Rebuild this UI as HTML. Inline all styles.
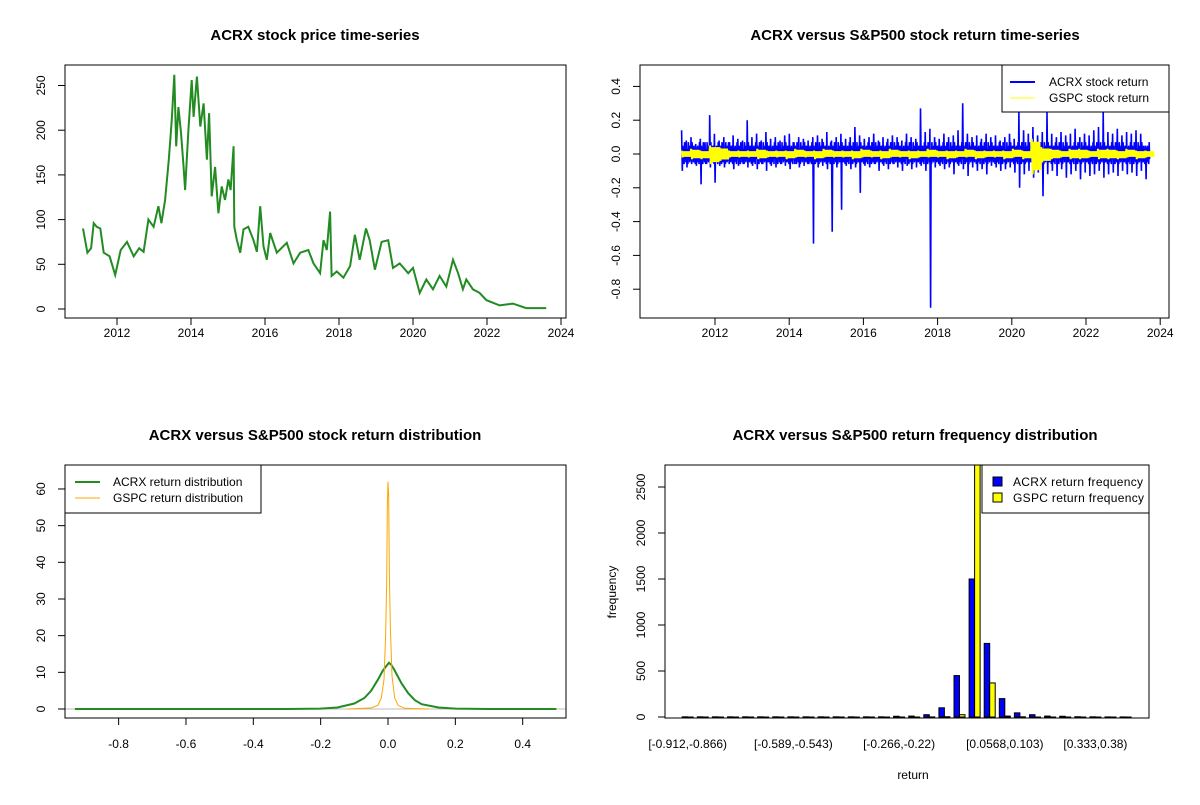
<!DOCTYPE html>
<html><head><meta charset="utf-8"><style>
body{margin:0;background:#fff}
svg text{font-family:"Liberation Sans",Arial,sans-serif;fill:#000}
.t{font-size:15px;font-weight:bold}
.k{font-size:12px}
</style></head><body>
<svg id="s" width="1200" height="800" xmlns="http://www.w3.org/2000/svg">
<rect width="1200" height="800" fill="#fff"/>
</svg>
<script>
// ---- Panel 1: price ----
const priceYears=[2011.08,2011.2,2011.3,2011.37,2011.45,2011.55,2011.64,2011.8,2011.95,2012.1,2012.27,2012.45,2012.6,2012.72,2012.85,2012.99,2013.12,2013.2,2013.3,2013.4,2013.48,2013.55,2013.6,2013.66,2013.73,2013.8,2013.84,2013.93,2014.02,2014.07,2014.16,2014.25,2014.34,2014.43,2014.49,2014.56,2014.65,2014.74,2014.83,2014.92,2015.01,2015.07,2015.15,2015.17,2015.24,2015.33,2015.42,2015.55,2015.69,2015.78,2015.87,2015.96,2016.05,2016.14,2016.32,2016.59,2016.77,2016.95,2017.17,2017.31,2017.49,2017.58,2017.67,2017.76,2017.8,2017.94,2018.12,2018.3,2018.43,2018.56,2018.73,2018.83,2018.97,2019.15,2019.33,2019.46,2019.64,2019.87,2020.0,2020.18,2020.36,2020.54,2020.72,2020.9,2021.08,2021.22,2021.35,2021.44,2021.62,2021.8,2021.98,2022.34,2022.7,2023.06,2023.6];
const prices=[90,63,68,96,92,90,63,59,38,66,75,59,68,64,100,92,115,96,122,167,212,262,182,226,197,159,133,200,256,215,260,204,230,167,219,126,159,107,137,122,145,133,182,92,77,63,89,92,77,64,115,70,55,85,63,74,51,63,66,51,40,77,66,109,37,42,35,48,83,55,90,77,44,75,77,46,51,40,46,18,33,22,37,25,55,40,22,33,22,18,10,4,6,1,1];
const priceTicks=[0,50,100,150,200,250];
const yearTicks=[2012,2014,2016,2018,2020,2022,2024];
// ---- Panel 2: returns (per-bin up/down excursions) ----
const acrxUp=[0.14,0.08,0.1,0.06,0.09,0.07,0.23,0.12,0.08,0.1,0.07,0.11,0.09,0.08,0.2,0.1,0.12,0.08,0.13,0.09,0.1,0.08,0.11,0.12,0.07,0.1,0.09,0.08,0.1,0.11,0.09,0.13,0.08,0.1,0.12,0.09,0.1,0.16,0.11,0.09,0.1,0.12,0.08,0.1,0.09,0.11,0.1,0.08,0.12,0.1,0.09,0.27,0.13,0.15,0.1,0.09,0.12,0.1,0.11,0.14,0.3,0.12,0.1,0.11,0.09,0.12,0.1,0.11,0.08,0.1,0.12,0.09,0.25,0.14,0.12,0.16,0.11,0.13,0.25,0.12,0.1,0.13,0.11,0.12,0.15,0.1,0.12,0.11,0.14,0.16,0.25,0.13,0.12,0.15,0.11,0.13,0.12,0.14,0.12,0.05];
const acrxDn=[-0.1,-0.08,-0.06,-0.07,-0.18,-0.06,-0.08,-0.17,-0.07,-0.08,-0.06,-0.09,-0.07,-0.06,-0.08,-0.07,-0.09,-0.06,-0.1,-0.07,-0.08,-0.06,-0.07,-0.09,-0.06,-0.08,-0.07,-0.06,-0.53,-0.08,-0.07,-0.09,-0.46,-0.08,-0.33,-0.07,-0.09,-0.08,-0.23,-0.07,-0.08,-0.06,-0.1,-0.07,-0.09,-0.06,-0.08,-0.1,-0.07,-0.09,-0.08,-0.07,-0.1,-0.91,-0.08,-0.07,-0.09,-0.08,-0.12,-0.07,-0.09,-0.13,-0.08,-0.1,-0.09,-0.12,-0.07,-0.08,-0.1,-0.09,-0.08,-0.11,-0.2,-0.12,-0.1,-0.14,-0.11,-0.25,-0.12,-0.1,-0.13,-0.09,-0.14,-0.12,-0.1,-0.15,-0.11,-0.13,-0.12,-0.1,-0.14,-0.12,-0.11,-0.13,-0.1,-0.12,-0.11,-0.13,-0.1,-0.15];
const acrxBandUp=[0.05,0.03,0.07,0.04];
const acrxBandDn=[-0.04,-0.06,-0.03,-0.05];
const gspcUp=[0.02,0.03,0.02,0.05,0.04,0.02,0.02,0.02,0.03,0.02,0.02,0.02,0.03,0.02,0.02,0.03,0.02,0.02,0.02,0.03,0.02,0.02,0.03,0.02,0.02,0.02,0.03,0.02,0.02,0.02,0.03,0.02,0.02,0.02,0.02,0.03,0.02,0.09,0.04,0.03,0.02,0.03,0.03,0.02,0.03,0.03,0.02,0.03,0.02,0.02];
const gspcDn=[-0.02,-0.03,-0.03,-0.06,-0.04,-0.02,-0.02,-0.02,-0.03,-0.02,-0.02,-0.03,-0.02,-0.02,-0.03,-0.02,-0.02,-0.02,-0.03,-0.02,-0.02,-0.03,-0.02,-0.02,-0.03,-0.02,-0.02,-0.02,-0.03,-0.02,-0.02,-0.03,-0.02,-0.02,-0.03,-0.02,-0.03,-0.12,-0.05,-0.03,-0.02,-0.03,-0.03,-0.02,-0.03,-0.03,-0.03,-0.02,-0.03,-0.02];
const retTicks=[-0.8,-0.6,-0.4,-0.2,0.0,0.2,0.4];
const retTickLabels=["-0.8","-0.6","-0.4","-0.2","0.0","0.2","0.4"];
// ---- Panel 3: density ----
const acrxDx=[-0.93,-0.3,-0.2,-0.15,-0.1,-0.07,-0.05,-0.03,-0.015,0.0,0.003,0.01,0.02,0.04,0.06,0.08,0.1,0.15,0.2,0.3,0.5];
const acrxDy=[0,0,0.1,0.4,1.5,3,5,8,10.5,12.3,12.6,12,10.5,7,4.3,2.4,1.3,0.4,0.1,0,0];
const gspcDx=[-0.12,-0.05,-0.03,-0.02,-0.012,-0.007,-0.004,-0.002,0.0,0.002,0.004,0.007,0.012,0.02,0.03,0.05,0.12];
const gspcDy=[0,0.3,1,3,8,20,35,55,62,58,38,22,9,3,1,0.2,0];
const densTicksX=[-0.8,-0.6,-0.4,-0.2,0.0,0.2,0.4];
const densTicksY=[0,10,20,30,40,50,60];
// ---- Panel 4: frequency ----
const acrxFreq=[2,2,2,2,2,2,2,2,2,2,2,2,2,2,8,10,25,100,450,1500,800,200,45,25,10,8,3,2,1,1];
const gspcFreq=[0,0,0,0,0,0,0,0,0,0,0,0,0,0,0,0,1,3,25,2900,370,10,2,0,0,0,0,0,0,0];
const freqLabelIdx=[0,7,14,21,27];
const freqLabels=["[-0.912,-0.866)","[-0.589,-0.543)","[-0.266,-0.22)","[0.0568,0.103)","[0.333,0.38)"];
const freqTicks=[0,500,1000,1500,2000,2500];

const S=document.getElementById('s');const NS='http://www.w3.org/2000/svg';
function mk(tag,at,txt){const e=document.createElementNS(NS,tag);for(const k in at)e.setAttribute(k,at[k]);if(txt!==undefined)e.textContent=txt;S.appendChild(e);return e;}
function box(x0,y0,x1,y1,name){const e=mk('rect',{x:x0,y:y0,width:x1-x0,height:y1-y0,fill:'none',stroke:'#000','stroke-width':1});

}
function title(x,y,t,name){const e=mk('text',{x:x,y:y,'text-anchor':'middle',class:'t'},t);

}
function xtick(px,yb,lab,ly){mk('line',{x1:px,x2:px,y1:yb,y2:yb+7,stroke:'#000'});const e=mk('text',{x:px,y:ly,'text-anchor':'middle',class:'k'},lab);

}
function ytick(py,xb,lab,lx){mk('line',{x1:xb-7,x2:xb,y1:py,y2:py,stroke:'#000'});const e=mk('text',{x:lx,y:py,'text-anchor':'middle',class:'k',transform:`rotate(-90 ${lx} ${py})`},lab);

}
function poly(pts,col,w,name){const e=mk('polyline',{points:pts.map(p=>p[0].toFixed(1)+','+p[1].toFixed(1)).join(' '),fill:'none',stroke:col,'stroke-width':w,'stroke-linejoin':'miter'});

}

// Panel 1
{const X=y=>117+(y-2012)*37,Y=v=>309-v*0.894;
title(315,40,'ACRX stock price time-series','price-title');
poly(priceYears.map((t,i)=>[X(t),Y(prices[i])]),'#228b22',2,'price-line');
box(65,65,566,318,'price-plot-box');
yearTicks.forEach(t=>xtick(X(t),318,String(t),337));
priceTicks.forEach(v=>ytick(Y(v),65,String(v),45));}

// Panel 2
{const X=y=>715+(y-2012)*37.1,Y=v=>154-v*169;
title(915,40,'ACRX versus S&P500 stock return time-series','return-title');
const p=[];const n=acrxUp.length;const step=12.5/(n-1)*37.1;
for(let i=0;i<n;i++){const x0=X(2011.1+i*12.5/(n-1));
p.push([x0,Y(acrxUp[i])]);p.push([x0+step*0.15,Y(acrxDn[i])]);
for(let j=0;j<acrxBandUp.length;j++){const k=(i+j)%acrxBandUp.length;p.push([x0+step*(0.25+j*0.19),Y(acrxBandUp[k])]);p.push([x0+step*(0.34+j*0.19),Y(acrxBandDn[k])]);}}
poly(p,'#0000ff',1.6,'acrx-return-line');
const q=[];const m=gspcUp.length;const st2=12.5/(m-1)*37.1;
for(let i=0;i<m;i++){const x0=X(2011.1+i*12.5/(m-1));
for(let j=0;j<5;j++){const f=j===0?1:0.8;q.push([x0+st2*j/5,Y(gspcUp[i]*f)]);q.push([x0+st2*(j+0.5)/5,Y(gspcDn[i]*f)]);}}
poly(q,'#ffff00',2,'gspc-return-line');
box(640,65,1169,318,'return-plot-box');
yearTicks.forEach(t=>xtick(X(t),318,String(t),337));
retTicks.forEach((v,i)=>ytick(Y(v),640,retTickLabels[i],620));
mk('rect',{x:1002,y:65,width:167,height:47,fill:'#fff',stroke:'#000'});
mk('line',{x1:1010,x2:1035,y1:82,y2:82,stroke:'#0000ff','stroke-width':2});
mk('line',{x1:1010,x2:1035,y1:98,y2:98,stroke:'#ffff00','stroke-width':1});
const l1=mk('text',{x:1049,y:86,class:'k'},'ACRX stock return');
const l2=mk('text',{x:1049,y:102,class:'k'},'GSPC stock return');}

// Panel 3
{const X=v=>388+v*336.7,Y=v=>709-v*3.667;
title(315,440,'ACRX versus S&P500 stock return distribution','density-title');
mk('line',{x1:65,x2:566,y1:Y(0),y2:Y(0),stroke:'#bebebe'});
poly(acrxDx.map((x,i)=>[X(x),Y(acrxDy[i])]),'#228b22',2,'acrx-density-line');
poly(gspcDx.map((x,i)=>[X(x),Y(gspcDy[i])]),'#ffa500',1,'gspc-density-line');
box(65,465,566,718,'density-plot-box');
densTicksX.forEach(v=>xtick(X(v),718,v===0?'0.0':String(v),748));
densTicksY.forEach(v=>ytick(Y(v),65,String(v),45));
mk('rect',{x:65,y:465,width:196,height:48,fill:'#fff',stroke:'#000'});
mk('line',{x1:75,x2:100,y1:482,y2:482,stroke:'#228b22','stroke-width':2});
mk('line',{x1:75,x2:100,y1:498,y2:498,stroke:'#ffa500','stroke-width':1});
const l3=mk('text',{x:113,y:486,class:'k'},'ACRX return distribution');
const l4=mk('text',{x:113,y:502,class:'k'},'GSPC return distribution');}

// Panel 4
{const C=g=>687.7+g*15.1,Y=v=>717-v*0.092;
title(915,440,'ACRX versus S&P500 return frequency distribution','frequency-title');
const cp=mk('clipPath',{id:'cp4'});const r=document.createElementNS(NS,'rect');r.setAttribute('x',665);r.setAttribute('y',465);r.setAttribute('width',484);r.setAttribute('height',253);cp.appendChild(r);
const gb=mk('g',{'clip-path':'url(#cp4)'});
acrxFreq.forEach((v,i)=>{const b=document.createElementNS(NS,'rect');b.setAttribute('x',C(i)-5.5);b.setAttribute('y',Y(v));b.setAttribute('width',5.5);b.setAttribute('height',Math.max(0.01,Y(0)-Y(v)));b.setAttribute('fill','#0000ff');b.setAttribute('stroke','#000');


gb.appendChild(b);});
gspcFreq.forEach((v,i)=>{const b=document.createElementNS(NS,'rect');b.setAttribute('x',C(i));b.setAttribute('y',Y(v));b.setAttribute('width',5.5);b.setAttribute('height',Math.max(0.01,Y(0)-Y(v)));b.setAttribute('fill','#ffff00');b.setAttribute('stroke','#000');


gb.appendChild(b);});
box(665,465,1149,718,'frequency-plot-box');
freqLabelIdx.forEach((g,i)=>{const e=mk('text',{x:C(g),y:748,'text-anchor':'middle',class:'k'},freqLabels[i]);});
freqTicks.forEach(v=>ytick(Y(v),665,String(v),645));
const yl=mk('text',{x:616,y:592,'text-anchor':'middle',class:'k',transform:'rotate(-90 616 592)'},'frequency');
const xl=mk('text',{x:913,y:779,'text-anchor':'middle',class:'k'},'return');
mk('rect',{x:982,y:465,width:167,height:48,fill:'#fff',stroke:'#000'});
mk('rect',{x:993,y:477,width:9,height:9,fill:'#0000ff',stroke:'#000'});
mk('rect',{x:993,y:493,width:9,height:9,fill:'#ffff00',stroke:'#000'});
const l5=mk('text',{x:1013,y:486,class:'k',textLength:130},'ACRX return frequency');
const l6=mk('text',{x:1013,y:502,class:'k',textLength:131},'GSPC return frequency');}
</script>
</body></html>
